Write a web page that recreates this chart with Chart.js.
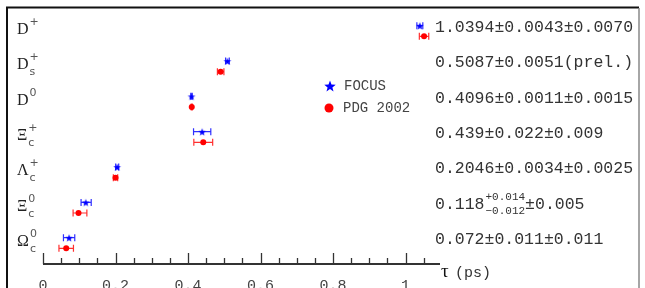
<!DOCTYPE html>
<html>
<head>
<meta charset="utf-8">
<script src="https://cdn.jsdelivr.net/npm/chart.js@4"></script>
<style>
  html, body { margin: 0; padding: 0; background: #fff; }
  #wrap { width: 645px; height: 288px; position: relative; }
</style>
</head>
<body>
<div id="wrap"><canvas id="lifetimes" width="645" height="288"></canvas></div>
<script>
// Particle rows, top to bottom
const rowBase = ["D", "D", "D", "Ξ", "Λ", "Ξ", "Ω"];
const rowSub = ["", "s", "", "c", "c", "c", "c"];
const rowSup = ["+", "+", "0", "+", "+", "0", "0"];

// FOCUS lifetimes (ps) and errors
const focusTau = [1.0394, 0.5087, 0.4096, 0.439, 0.2046, 0.118, 0.072];
const focusErrLo = [0.0082, 0.0051, 0.0019, 0.0238, 0.0042, 0.013, 0.0156];
const focusErrHi = [0.0082, 0.0051, 0.0019, 0.0238, 0.0042, 0.015, 0.0156];

// PDG 2002 lifetimes (ps) and errors
const pdgTau = [1.051, 0.490, 0.4103, 0.442, 0.200, 0.098, 0.064];
const pdgErrLo = [0.013, 0.009, 0.0015, 0.026, 0.006, 0.015, 0.020];
const pdgErrHi = [0.013, 0.009, 0.0015, 0.026, 0.006, 0.023, 0.020];

// Text of the FOCUS results on the right
const resultText = ["1.0394±0.0043±0.0070", "0.5087±0.0051(prel.)", "0.4096±0.0011±0.0015",
  "0.439±0.022±0.009", "0.2046±0.0034±0.0025", "0.118|+0.014|−0.012|±0.005", "0.072±0.011±0.011"];

// x axis ticks
const tickValues = [0, 0.2, 0.4, 0.6, 0.8, 1];
const tickLabels = ["0", "0.2", "0.4", "0.6", "0.8", "1"];
const minorStep = 0.05;

const BLUE = "#0000ff";
const RED = "#ff0000";
const MONO = "'Liberation Mono', 'DejaVu Sans Mono', monospace";
const SERIF = "'Liberation Serif', 'DejaVu Serif', serif";

function starImage(r, color) {
  const c = document.createElement("canvas");
  const s = Math.ceil(r * 2) + 2;
  c.width = s; c.height = s;
  const g = c.getContext("2d");
  g.fillStyle = color;
  g.beginPath();
  for (let i = 0; i < 10; i++) {
    const rad = i % 2 === 0 ? r : r * 0.42;
    const a = -Math.PI / 2 + i * Math.PI / 5;
    const px = s / 2 + rad * Math.cos(a), py = s / 2 + 0.6 + rad * Math.sin(a);
    i === 0 ? g.moveTo(px, py) : g.lineTo(px, py);
  }
  g.closePath();
  g.fill();
  return c;
}

const plotStar = starImage(4, BLUE);
const legendStar = starImage(6, BLUE);

const focusPoints = focusTau.map((t, i) => ({ x: t, y: i - 0.15 }));
const pdgPoints = pdgTau.map((t, i) => ({ x: t, y: i + 0.15 }));

// error bars, drawn under the markers
const errorBars = {
  id: "errorBars",
  beforeDatasetsDraw(chart) {
    const { ctx, scales: { x, y } } = chart;
    const sets = [
      [focusPoints, focusErrLo, focusErrHi, "#3030ff"],
      [pdgPoints, pdgErrLo, pdgErrHi, "#ff3030"]
    ];
    ctx.save();
    ctx.lineWidth = 1.2;
    sets.forEach(([pts, lo, hi, col]) => {
      ctx.strokeStyle = col;
      pts.forEach((p, i) => {
        const py = y.getPixelForValue(p.y);
        const x1 = x.getPixelForValue(p.x - lo[i]);
        const x2 = x.getPixelForValue(p.x + hi[i]);
        ctx.beginPath();
        ctx.moveTo(x1, py); ctx.lineTo(x2, py);
        ctx.moveTo(x1, py - 3.5); ctx.lineTo(x1, py + 3.5);
        ctx.moveTo(x2, py - 3.5); ctx.lineTo(x2, py + 3.5);
        ctx.stroke();
      });
    });
    ctx.restore();
  }
};

// frame, axis, labels, legend
const decorations = {
  id: "decorations",
  afterDraw(chart) {
    const { ctx, scales: { x, y } } = chart;
    ctx.save();

    // frame
    ctx.strokeStyle = "#111";
    ctx.lineWidth = 2;
    ctx.beginPath();
    ctx.moveTo(7, 288); ctx.lineTo(7, 7.5); ctx.lineTo(639, 7.5);
    ctx.stroke();
    ctx.strokeStyle = "#888";
    ctx.lineWidth = 1.5;
    ctx.beginPath();
    ctx.moveTo(639, 8); ctx.lineTo(639, 288);
    ctx.stroke();

    // x axis
    const ay = chart.chartArea.bottom;
    ctx.strokeStyle = "#333";
    ctx.lineWidth = 1.8;
    ctx.beginPath();
    ctx.moveTo(x.getPixelForValue(x.min), ay);
    ctx.lineTo(x.getPixelForValue(x.max), ay);
    ctx.stroke();
    ctx.lineWidth = 1.3;
    for (let v = 0; v <= x.max + 1e-9; v += minorStep) {
      const major = tickValues.some(t => Math.abs(t - v) < 1e-6);
      const px = Math.round(x.getPixelForValue(v)) + 0.5;
      ctx.beginPath();
      ctx.moveTo(px, ay);
      ctx.lineTo(px, ay - (major ? 11 : 6));
      ctx.stroke();
    }
    ctx.fillStyle = "#444";
    ctx.font = "15px " + MONO;
    ctx.textAlign = "center";
    ctx.textBaseline = "middle";
    tickValues.forEach((v, i) => ctx.fillText(tickLabels[i], x.getPixelForValue(v), 286));

    // axis title
    ctx.textAlign = "left";
    ctx.font = "19px " + SERIF;
    ctx.fillStyle = "#111";
    ctx.fillText("τ", 441, 272);
    ctx.font = "15px " + MONO;
    ctx.fillStyle = "#333";
    ctx.fillText("(ps)", 455, 273);

    // row labels
    rowBase.forEach((b, i) => {
      const base = y.getPixelForValue(i) + 3;
      ctx.textBaseline = "alphabetic";
      ctx.fillStyle = "#222";
      ctx.font = "16px " + SERIF;
      ctx.fillText(b, 17, base);
      const w = ctx.measureText(b).width;
      ctx.fillStyle = "#555";
      ctx.font = "11px 'DejaVu Sans', sans-serif";
      if (rowSup[i]) ctx.fillText(rowSup[i], 18 + w, base - 9);
      if (rowSub[i]) ctx.fillText(rowSub[i], 18 + w, base + 6);
    });

    // FOCUS result text
    ctx.fillStyle = "#333";
    ctx.textBaseline = "middle";
    resultText.forEach((s, i) => {
      const py = y.getPixelForValue(i - 0.1);
      ctx.font = "16.5px " + MONO;
      if (s.includes("|")) {
        const [main, up, dn, tail] = s.split("|");
        ctx.fillText(main, 435, py);
        let px = 435 + ctx.measureText(main).width + 1;
        ctx.font = "11px " + MONO;
        ctx.fillText(up, px, py - 7);
        ctx.fillText(dn, px, py + 7);
        px += ctx.measureText(up).width;
        ctx.font = "16.5px " + MONO;
        ctx.fillText(tail, px, py);
      } else {
        ctx.fillText(s, 435, py);
      }
    });

    // legend
    const ds = chart.data.datasets;
    ctx.drawImage(legendStar, 330 - legendStar.width / 2, 86 - legendStar.height / 2);
    ctx.fillStyle = RED;
    ctx.beginPath();
    ctx.arc(329, 108, 4.5, 0, Math.PI * 2);
    ctx.fill();
    ctx.fillStyle = "#444";
    ctx.font = "14px " + MONO;
    ctx.fillText(ds[0].label, 344, 86);
    ctx.fillText(ds[1].label, 343, 108);

    ctx.restore();
  }
};

new Chart(document.getElementById("lifetimes"), {
  type: "scatter",
  data: {
    datasets: [
      {
        label: "FOCUS",
        data: focusPoints,
        pointStyle: plotStar,
        backgroundColor: BLUE,
        borderColor: BLUE
      },
      {
        label: "PDG 2002",
        data: pdgPoints,
        pointStyle: "circle",
        pointRadius: 3,
        borderWidth: 0,
        backgroundColor: RED,
        borderColor: RED
      }
    ]
  },
  options: {
    responsive: false,
    animation: false,
    events: [],
    layout: { padding: { left: 43, right: 205, top: 8, bottom: 24 } },
    plugins: { legend: { display: false }, tooltip: { enabled: false } },
    scales: {
      x: { type: "linear", min: 0, max: 1.095, display: false },
      y: { type: "linear", min: -0.651, max: 6.594, reverse: true, display: false }
    }
  },
  plugins: [errorBars, decorations]
});
</script>
</body>
</html>
